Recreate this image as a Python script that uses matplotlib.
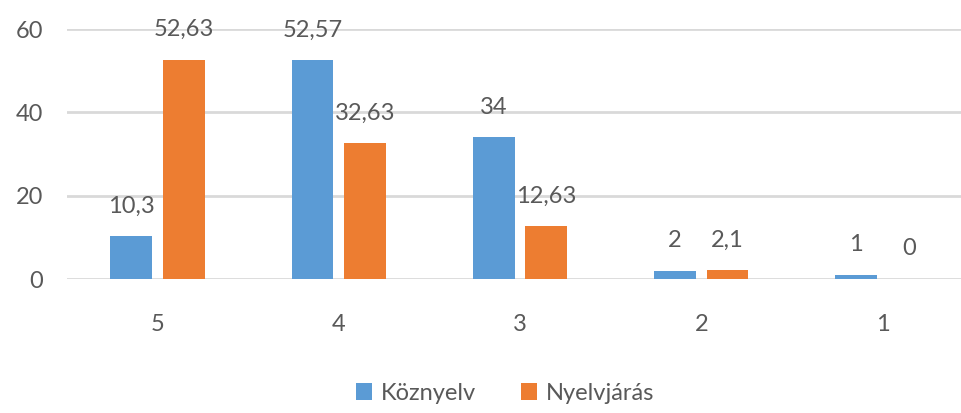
import matplotlib
matplotlib.use("Agg")
import matplotlib.pyplot as plt
import numpy as np

categories = ["5", "4", "3", "2", "1"]
koznyelv = [10.3, 52.57, 34, 2, 1]
nyelvjaras = [52.63, 32.63, 12.63, 2.1, 0]
koznyelv_labels = ["10,3", "52,57", "34", "2", "1"]
nyelvjaras_labels = ["52,63", "32,63", "12,63", "2,1", "0"]

plt.rcParams["font.family"] = ["Lato", "DejaVu Sans"]

blue = "#5B9BD5"
orange = "#ED7D31"
txt = "#595959"
fs = 17

fig = plt.figure(figsize=(9.62, 4.13), dpi=100)
ax = fig.add_axes([67 / 962, 134 / 413, 906 / 962, 250 / 413])

x = np.arange(len(categories))
w = 0.23
off = 0.145
b1 = ax.bar(x - off, koznyelv, w, color=blue, label="Köznyelv", zorder=3)
b2 = ax.bar(x + off, nyelvjaras, w, color=orange, label="Nyelvjárás", zorder=3)

for bars, labs in ((b1, koznyelv_labels), (b2, nyelvjaras_labels)):
    for r, lab in zip(bars, labs):
        ax.annotate(lab, (r.get_x() + r.get_width() / 2, r.get_height()),
                    xytext=(0, 17), textcoords="offset points",
                    ha="center", va="baseline", fontsize=fs, color=txt)

ax.set_xlim(-0.5, 4.5)
ax.set_ylim(0, 60)
ax.set_yticks([0, 20, 40, 60])
ax.set_xticks(x)
ax.set_xticklabels(categories)
ax.grid(axis="y", color="#D9D9D9", linewidth=2, zorder=0)
for s in ax.spines.values():
    s.set_visible(False)
ax.tick_params(axis="both", length=0, labelsize=fs, colors=txt)
ax.tick_params(axis="y", pad=17)
ax.tick_params(axis="x", pad=25)

fig.legend(loc="center", bbox_to_anchor=(505 / 962, 1 - 393 / 413), ncol=2,
           frameon=False, fontsize=fs, labelcolor=txt, handlelength=0.7,
           handleheight=0.7, handletextpad=0.35, columnspacing=1.9)

fig.savefig("out.png", dpi=100)
